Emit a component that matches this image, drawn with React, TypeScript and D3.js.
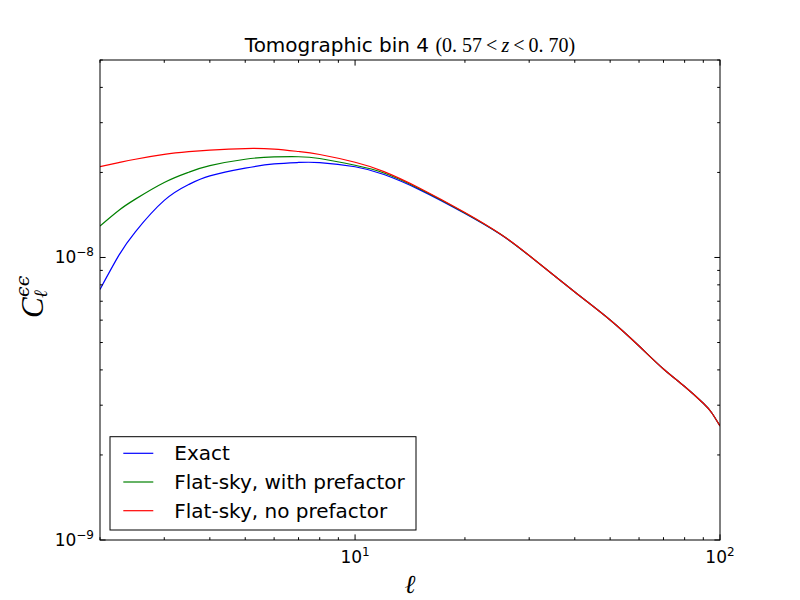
import * as d3 from "d3";

const ells = [2, 2.25, 2.5, 3, 3.5, 4, 5, 6, 7, 8, 10, 12, 15, 20, 25, 30, 40, 50, 60, 70, 80, 90, 95, 100];

// C_l values in units of 1e-9
const exact = [7.71, 10.15, 12.33, 15.92, 18.12, 19.44, 20.71, 21.43, 21.69, 21.67, 20.95, 19.67, 17.39, 14.32, 12.09, 10.15, 7.55, 6.01, 4.86, 4.03, 3.494, 3.047, 2.816, 2.533];
const flatPref = [12.93, 14.67, 16.09, 18.43, 20.03, 21.13, 22.27, 22.69, 22.73, 22.41, 21.2, 19.91, 17.51, 14.37, 12.1, 10.16, 7.55, 6.01, 4.86, 4.03, 3.494, 3.047, 2.816, 2.533];
const flatNoPref = [20.96, 21.65, 22.27, 23.17, 23.69, 24.0, 24.3, 24.18, 23.72, 23.15, 21.73, 20.14, 17.62, 14.42, 12.11, 10.16, 7.55, 6.01, 4.86, 4.03, 3.494, 3.047, 2.816, 2.533];

const seriesNames = ["Exact", "Flat-sky, with prefactor", "Flat-sky, no prefactor"];
const seriesColors = ["#0000ff", "#008000", "#ff0000"];

const xMajor = [10, 100];
const xMajorLabels = ["1", "2"];
const yMajor = [1e-9, 1e-8];
const yMajorLabels = ["−9", "−8"];

const width = 800;
const height = 600;
const margin = { top: 60, right: 80, bottom: 60, left: 100 };

const sans = "'DejaVu Sans', sans-serif";
const serif = "'Liberation Serif', 'DejaVu Serif', serif";

export default function App() {
  const x = d3.scaleLog().domain([2, 100]).range([margin.left, width - margin.right]);
  const y = d3.scaleLog().domain([1e-9, 5e-8]).range([height - margin.bottom, margin.top]);
  const [x0, x1] = x.range();
  const [y0, y1] = y.range();

  const line = d3
    .line<[number, number]>()
    .x((d) => x(d[0]))
    .y((d) => y(d[1] * 1e-9))
    .curve(d3.curveNatural);

  const series = [exact, flatPref, flatNoPref];

  // minor ticks on the log axes
  const xMinor: number[] = [];
  for (let v = 2; v < 10; v++) xMinor.push(v);
  for (let v = 20; v < 100; v += 10) xMinor.push(v);
  const yMinor: number[] = [];
  for (let v = 2; v < 10; v++) yMinor.push(v * 1e-9);
  for (let v = 2; v <= 5; v++) yMinor.push(v * 1e-8);

  const major = 5.6;
  const minor = 2.8;

  return (
    <svg
      width={width}
      height={height}
      style={{ position: "absolute", left: 0, top: 0, background: "#fff" }}
    >
      <rect x={0} y={0} width={width} height={height} fill="#fff" />
      <clipPath id="plot">
        <rect x={x0} y={y1} width={x1 - x0} height={y0 - y1} />
      </clipPath>

      <g clipPath="url(#plot)">
        {series.map((vals, i) => (
          <path
            key={seriesNames[i]}
            d={line(ells.map((l, j) => [l, vals[j]] as [number, number])) || ""}
            fill="none"
            stroke={seriesColors[i]}
            strokeWidth={1.2}
          />
        ))}
      </g>

      {/* ticks, inward, on all four sides */}
      <g stroke="#000" strokeWidth={1}>
        {xMinor.map((v) => (
          <g key={"xm" + v}>
            <line x1={x(v)} x2={x(v)} y1={y0} y2={y0 - minor} />
            <line x1={x(v)} x2={x(v)} y1={y1} y2={y1 + minor} />
          </g>
        ))}
        {xMajor.map((v) => (
          <g key={"xM" + v}>
            <line x1={x(v)} x2={x(v)} y1={y0} y2={y0 - major} />
            <line x1={x(v)} x2={x(v)} y1={y1} y2={y1 + major} />
          </g>
        ))}
        {yMinor.map((v) => (
          <g key={"ym" + v}>
            <line x1={x0} x2={x0 + minor} y1={y(v)} y2={y(v)} />
            <line x1={x1} x2={x1 - minor} y1={y(v)} y2={y(v)} />
          </g>
        ))}
        {yMajor.map((v) => (
          <g key={"yM" + v}>
            <line x1={x0} x2={x0 + major} y1={y(v)} y2={y(v)} />
            <line x1={x1} x2={x1 - major} y1={y(v)} y2={y(v)} />
          </g>
        ))}
      </g>

      <rect
        x={x0}
        y={y1}
        width={x1 - x0}
        height={y0 - y1}
        fill="none"
        stroke="#000"
        strokeWidth={1}
      />

      {/* tick labels */}
      <g fontFamily={sans} fontSize={17} fill="#000">
        {xMajor.map((v, i) => (
          <text key={"xl" + v} x={x(v)} y={y0 + 22.7} textAnchor="middle">
            10
            <tspan dy={-7} fontSize={12}>
              {xMajorLabels[i]}
            </tspan>
          </text>
        ))}
        {yMajor.map((v, i) => (
          <text key={"yl" + v} x={x0 - 6} y={y(v) + 6} textAnchor="end">
            10
            <tspan dy={-7} fontSize={12}>
              {yMajorLabels[i]}
            </tspan>
          </text>
        ))}
      </g>

      {/* title */}
      <text x={(x0 + x1) / 2} y={52} textAnchor="middle" fontSize={20} fill="#000">
        <tspan fontFamily={sans}>Tomographic bin 4 </tspan>
        <tspan fontFamily={serif}>
          (0. 57{"\u2009"}&lt;{"\u2009"}
          <tspan fontStyle="italic">z</tspan>
          {"\u2009"}&lt;{"\u2009"}0. 70)
        </tspan>
      </text>

      {/* axis labels */}
      <text
        x={(x0 + x1) / 2}
        y={593}
        textAnchor="middle"
        fontFamily={serif}
        fontStyle="italic"
        fontSize={26}
      >
        ℓ
      </text>
      <g transform="translate(43,318) rotate(-90)" fontFamily={serif}>
        <text x={0} y={0} fontStyle="italic" fontSize={31}>
          C
        </text>
        <text x={21} y={-14} fontStyle="italic" fontSize={19} fontFamily="'DejaVu Serif', serif">
          ϵϵ
        </text>
        <text x={20} y={4} fontStyle="italic" fontSize={19}>
          ℓ
        </text>
      </g>

      {/* legend */}
      <g>
        <rect x={110} y={436.7} width={306} height={93.3} fill="#fff" stroke="#000" strokeWidth={1} />
        {seriesNames.map((name, i) => {
          const cy = 453.3 + i * 28.7;
          return (
            <g key={name}>
              <line x1={123.3} x2={153.3} y1={cy} y2={cy} stroke={seriesColors[i]} strokeWidth={1.2} />
              <text x={174.3} y={cy + 7} fontFamily={sans} fontSize={20} fill="#000">
                {name}
              </text>
            </g>
          );
        })}
      </g>
    </svg>
  );
}
